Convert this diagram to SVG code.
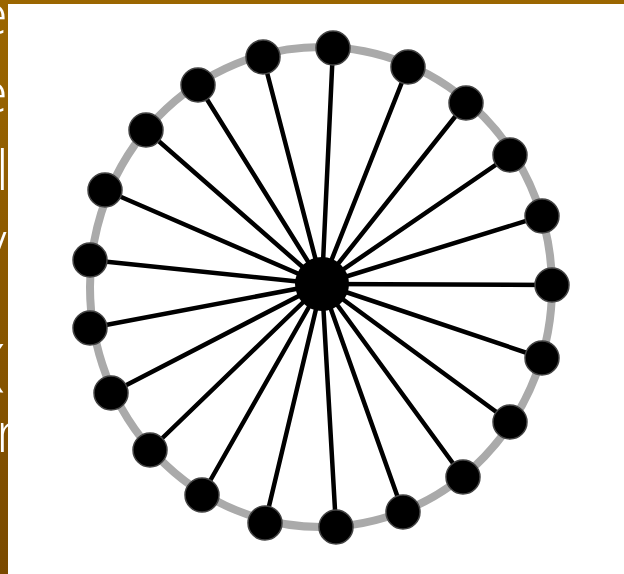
<svg xmlns="http://www.w3.org/2000/svg" width="624" height="574" viewBox="0 0 624 574">
<defs>
<linearGradient id="bg" x1="0" y1="0" x2="0" y2="1">
<stop offset="0" stop-color="#9b6600"/>
<stop offset="1" stop-color="#7a4a00"/>
</linearGradient>
<style>
.slide{font-family:"Open Sans","Liberation Sans",Arial,sans-serif;font-weight:300;font-size:56px;fill:#ffffff}
.spoke{stroke:#000;stroke-width:4.5;stroke-linecap:round}
.node{fill:#000;stroke:#444;stroke-width:1.5}
.ring{fill:none;stroke:#aaaaaa;stroke-width:8}
</style>
</defs>
<rect x="0" y="0" width="624" height="574" fill="url(#bg)"/>
<g id="slide-text">
<text class="slide" x="-23" y="34">e</text>
<text class="slide" x="-23" y="112">e</text>
<text class="slide" x="-4" y="190" font-weight="600">l</text>
<text class="slide" x="-12" y="272">/</text>
<text class="slide" x="-10" y="384" font-size="40">(</text>
<text class="slide" x="-4" y="452">r</text>
</g>
<rect x="8" y="4" width="616" height="570" fill="#ffffff"/>
<g id="ring">
<ellipse class="ring" cx="321" cy="287" rx="231" ry="240"/>
</g>
<g id="connectors">
<line class="spoke" x1="322" y1="284" x2="333" y2="48"/>
<line class="spoke" x1="322" y1="284" x2="408" y2="67"/>
<line class="spoke" x1="322" y1="284" x2="466" y2="103"/>
<line class="spoke" x1="322" y1="284" x2="510" y2="155"/>
<line class="spoke" x1="322" y1="284" x2="542" y2="216"/>
<line class="spoke" x1="322" y1="284" x2="552" y2="285"/>
<line class="spoke" x1="322" y1="284" x2="542" y2="358"/>
<line class="spoke" x1="322" y1="284" x2="510" y2="422"/>
<line class="spoke" x1="322" y1="284" x2="463" y2="477"/>
<line class="spoke" x1="322" y1="284" x2="403" y2="512"/>
<line class="spoke" x1="322" y1="284" x2="336" y2="527"/>
<line class="spoke" x1="322" y1="284" x2="265" y2="523"/>
<line class="spoke" x1="322" y1="284" x2="202" y2="495"/>
<line class="spoke" x1="322" y1="284" x2="150" y2="450"/>
<line class="spoke" x1="322" y1="284" x2="111" y2="393"/>
<line class="spoke" x1="322" y1="284" x2="90" y2="328"/>
<line class="spoke" x1="322" y1="284" x2="90" y2="260"/>
<line class="spoke" x1="322" y1="284" x2="105" y2="190"/>
<line class="spoke" x1="322" y1="284" x2="146" y2="130"/>
<line class="spoke" x1="322" y1="284" x2="198" y2="85"/>
<line class="spoke" x1="322" y1="284" x2="263" y2="57"/>
</g>
<g id="hub"><circle cx="322" cy="284" r="27" fill="#000"/></g>
<g id="n1"><circle class="node" cx="333" cy="48" r="17"/></g>
<g id="n2"><circle class="node" cx="408" cy="67" r="17"/></g>
<g id="n3"><circle class="node" cx="466" cy="103" r="17"/></g>
<g id="n4"><circle class="node" cx="510" cy="155" r="17"/></g>
<g id="n5"><circle class="node" cx="542" cy="216" r="17"/></g>
<g id="n6"><circle class="node" cx="552" cy="285" r="17"/></g>
<g id="n7"><circle class="node" cx="542" cy="358" r="17"/></g>
<g id="n8"><circle class="node" cx="510" cy="422" r="17"/></g>
<g id="n9"><circle class="node" cx="463" cy="477" r="17"/></g>
<g id="n10"><circle class="node" cx="403" cy="512" r="17"/></g>
<g id="n11"><circle class="node" cx="336" cy="527" r="17"/></g>
<g id="n12"><circle class="node" cx="265" cy="523" r="17"/></g>
<g id="n13"><circle class="node" cx="202" cy="495" r="17"/></g>
<g id="n14"><circle class="node" cx="150" cy="450" r="17"/></g>
<g id="n15"><circle class="node" cx="111" cy="393" r="17"/></g>
<g id="n16"><circle class="node" cx="90" cy="328" r="17"/></g>
<g id="n17"><circle class="node" cx="90" cy="260" r="17"/></g>
<g id="n18"><circle class="node" cx="105" cy="190" r="17"/></g>
<g id="n19"><circle class="node" cx="146" cy="130" r="17"/></g>
<g id="n20"><circle class="node" cx="198" cy="85" r="17"/></g>
<g id="n21"><circle class="node" cx="263" cy="57" r="17"/></g>
</svg>
